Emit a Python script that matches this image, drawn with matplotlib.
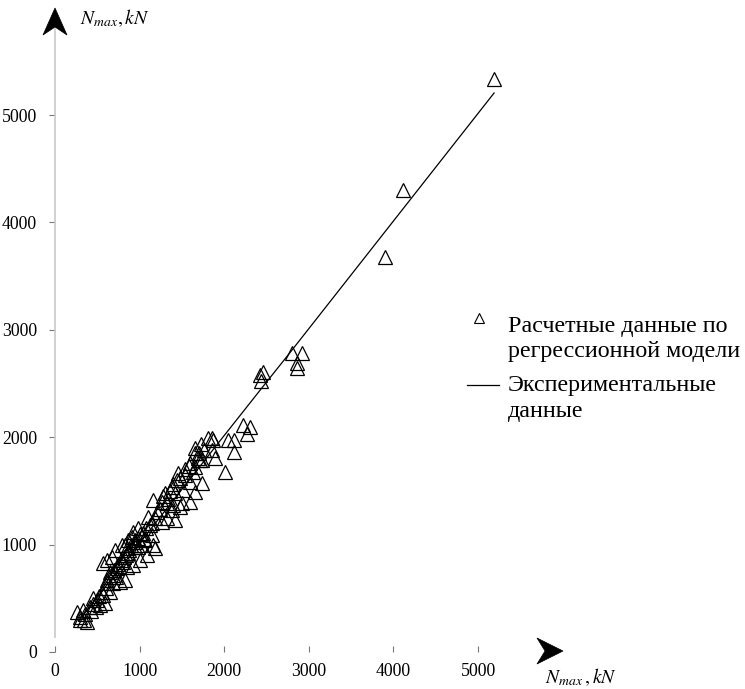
import numpy as np
import matplotlib
matplotlib.use("Agg")
import matplotlib.pyplot as plt
from matplotlib.patches import Polygon
from matplotlib.lines import Line2D

plt.rcParams['font.family'] = ['Liberation Serif', 'DejaVu Serif']
plt.rcParams['mathtext.fontset'] = 'stix'

# --- data: regression model (x = experimental, y = calculated), kN ---
calc_x = [5190, 4110, 3900, 2800, 2920, 2860, 2860, 2460, 2420, 2440,
          2220, 2300, 2270, 2045, 2115, 2115, 2010, 1810, 1870, 1850,
          1655, 1855, 1890, 1690, 1715, 1455, 1535, 1630, 1655, 1740,
          1595, 1740, 1385, 1300, 1420, 1515, 1655, 1160, 1325, 1395,
          1500, 1595, 1385, 1480, 1100, 1180, 1325, 1420, 1265, 980,
          920, 1040, 1145, 865, 830, 946, 981, 910, 1064, 1158,
          1182, 378, 296, 260, 331, 414, 532, 591, 449, 567,
          650, 686, 768, 827, 615, 650, 733, 851, 922, 1005,
          1087, 851, 946, 615, 567, 674, 709, 792,
          300, 340, 350, 420, 450, 480, 500, 520, 560, 600,
          620, 640, 680, 700, 720, 740, 760, 780, 800, 820,
          840, 860, 880, 900, 950, 980, 1000, 1020, 1050, 1080,
          1120, 1150, 1200, 1240, 1260, 1280, 1340, 1360, 1400, 1440,
          1480, 1540, 1580, 1600, 1650, 1700, 1720, 1760]
calc_y = [5335, 4300, 3680, 2785, 2785, 2690, 2645, 2605, 2580, 2520,
          2115, 2095, 2030, 1975, 1975, 1860, 1675, 1995, 1975, 1990,
          1900, 1880, 1805, 1805, 1790, 1665, 1650, 1675, 1850, 1790,
          1585, 1575, 1535, 1480, 1480, 1510, 1490, 1415, 1385, 1370,
          1385, 1395, 1320, 1350, 1255, 1250, 1250, 1230, 1210, 1155,
          1115, 1110, 1090, 1045, 1000, 1025, 980, 1070, 1045, 995,
          965, 280, 300, 370, 390, 420, 440, 455, 505, 530,
          560, 640, 650, 670, 670, 745, 780, 790, 810, 855,
          905, 970, 980, 855, 830, 885, 950, 995,
          330, 300, 350, 380, 450, 420, 480, 520, 560, 600,
          640, 700, 720, 760, 700, 820, 800, 860, 840, 880,
          900, 920, 950, 1000, 1040, 1060, 1100, 1000, 1050, 1150,
          1180, 1200, 1300, 1330, 1400, 1450, 1420, 1500, 1560, 1600,
          1620, 1700, 1730, 1760, 1720, 1850, 1940, 1880]

# experimental data line
exp_x = [280, 1930, 2520, 2750, 5190]
exp_y = [290, 1946, 2533, 2760, 5205]

ticks = [0, 1000, 2000, 3000, 4000, 5000]

W, H = 745, 689
fig = plt.figure(figsize=(W / 100, H / 100), dpi=100)
fig.patch.set_facecolor('white')

x_max, y_max = 6000, 5800
ax = fig.add_axes([55 / W, (H - 652) / H, 507.6 / W, 622.9 / H])
ax.set_xlim(0, x_max)
ax.set_ylim(0, y_max)

ax.plot(exp_x, exp_y, color='black', linewidth=0.9, zorder=2)
ax.plot(calc_x, calc_y, linestyle='none', marker='^', markersize=9.5,
        markerfacecolor='none', markeredgecolor='black', markeredgewidth=0.9,
        zorder=3, clip_on=False)

for s in ['top', 'right', 'bottom']:
    ax.spines[s].set_visible(False)
ax.spines['left'].set_color('#c8c8c8')
ax.spines['left'].set_linewidth(1.2)
ax.spines['left'].set_bounds(140, y_max)

ax.set_xticks(ticks)
ax.set_yticks(ticks)
ax.set_xticklabels([str(t) for t in ticks])
ax.set_yticklabels([str(t) for t in ticks])
ax.tick_params(axis='y', length=4, width=0.8, color='#777777', pad=9,
               labelsize=12.8, direction='out')
ax.tick_params(axis='x', length=4, width=0.8, color='#777777', pad=8,
               labelsize=12.8, direction='in')

# arrows at the ends of the axes
def fig_poly(pts):
    return Polygon([(px / W, 1 - py / H) for px, py in pts], closed=True,
                   transform=fig.transFigure, facecolor='black',
                   edgecolor='black', linewidth=0.5)

fig.patches.append(fig_poly([(55, 8), (67, 35), (55, 27), (43, 35)]))
fig.patches.append(fig_poly([(563, 651), (537, 638), (545, 651), (537, 664)]))

fig.text(80 / W, 1 - 18 / H, r'$N_{max},kN$', fontsize=14, ha='left', va='center')
fig.text(545 / W, 1 - 677 / H, r'$N_{max}\,,kN$', fontsize=14, ha='left', va='center')

# legend
fig.add_artist(Line2D([479 / W], [1 - 318 / H], marker='^', markersize=6.5,
                      markerfacecolor='none', markeredgecolor='black',
                      markeredgewidth=0.8, transform=fig.transFigure))
fig.add_artist(Line2D([467 / W, 499 / W], [1 - 385 / H, 1 - 385 / H],
                      color='black', linewidth=0.9, transform=fig.transFigure))
leg_fs = 17.3
fig.text(508 / W, 1 - 326 / H, 'Расчетные данные по', fontsize=leg_fs, ha='left', va='center')
fig.text(508 / W, 1 - 352 / H, 'регрессионной модели', fontsize=leg_fs, ha='left', va='center')
fig.text(508 / W, 1 - 386 / H, 'Экспериментальные', fontsize=leg_fs, ha='left', va='center')
fig.text(508 / W, 1 - 412 / H, 'данные', fontsize=leg_fs, ha='left', va='center')

fig.savefig('out.png', dpi=100, facecolor='white')
